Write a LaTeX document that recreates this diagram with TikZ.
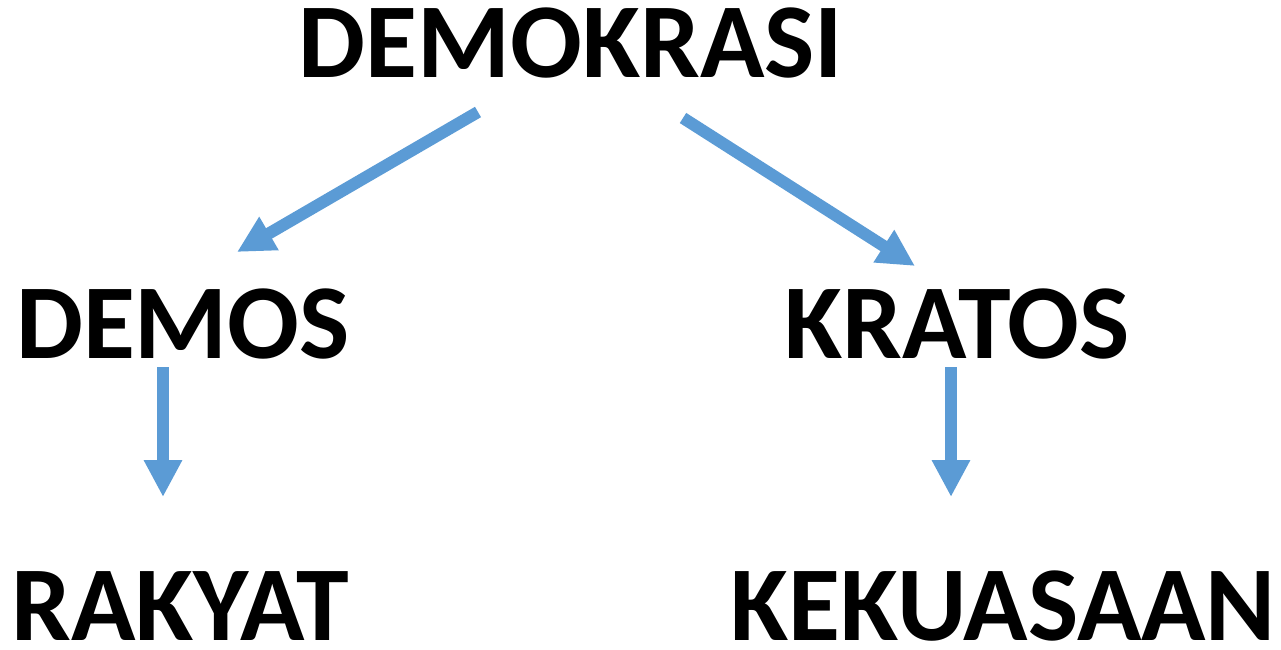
\documentclass[tikz,border=0pt]{standalone}
\usepackage{fontspec}
\setmainfont{Carlito}
\usetikzlibrary{arrows.meta}
\definecolor{arrowblue}{HTML}{5B9BD5}
\begin{document}
\begin{tikzpicture}[x=0.02cm,y=-0.02cm,
  word/.style={anchor=base,inner sep=0pt,font=\fontsize{60.5}{62}\selectfont\bfseries},
  link/.style={draw=arrowblue,line width=12*0.02cm,
    -{Triangle[width=36*0.02cm,length=37*0.02cm]}}]
  \useasboundingbox (0,0) rectangle (1281,649);
  \node[word] (dem)  at (571,77)  {DEMOKRASI};
  \node[word] (demos) at (183,358) {DEMOS};
  \node[word] (kra)  at (957,358) {KRATOS};
  \node[word] (rak)  at (180,640) {RAKYAT};
  \node[word] (kek)  at (1003,640) {KEKUASAAN};
  \coordinate (a1s) at (478,112);
  \coordinate (a1e) at (237,252);
  \coordinate (a2s) at (683,118);
  \coordinate (a2e) at (915,266);
  \coordinate (a3s) at (163,367);
  \coordinate (a3e) at (163,497);
  \coordinate (a4s) at (951,367);
  \coordinate (a4e) at (951,497);
  \draw[link] (a1s) -- (a1e);
  \draw[link] (a2s) -- (a2e);
  \draw[link] (a3s) -- (a3e);
  \draw[link] (a4s) -- (a4e);
\end{tikzpicture}
\end{document}
